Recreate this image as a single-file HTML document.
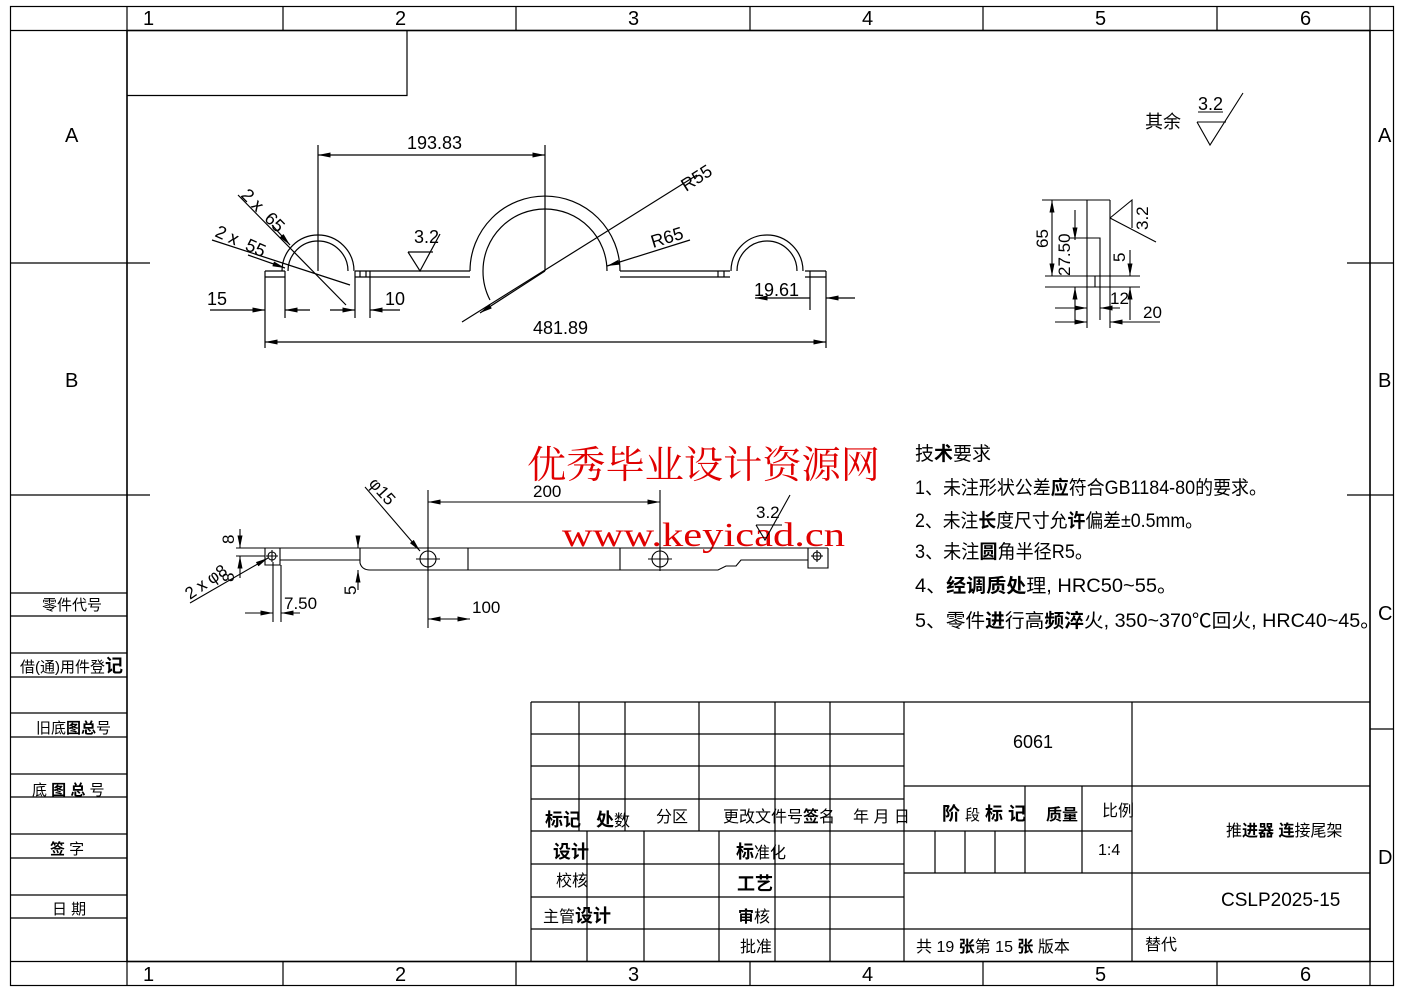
<!DOCTYPE html>
<html><head><meta charset="utf-8"><style>
html,body{margin:0;padding:0;background:#fff;}
svg{display:block;}
text{font-family:"Liberation Sans","Noto Sans CJK SC",sans-serif;fill:#000;}
.w{font-family:"Liberation Serif","Noto Serif CJK SC",serif;fill:#e00000;}
</style></head><body>
<svg width="1403" height="992" viewBox="0 0 1403 992" xmlns="http://www.w3.org/2000/svg">
<defs>
<marker id="a" viewBox="0 0 10 4" refX="10" refY="2" markerWidth="14" markerHeight="5" markerUnits="userSpaceOnUse" orient="auto-start-reverse"><path d="M0,0 L10,2 L0,4z" fill="#000"/></marker>
</defs>
<g fill="none" stroke="#000" stroke-width="1.2">
<rect x="10.5" y="6.5" width="1383" height="979"/>
<rect x="127" y="30.5" width="1243" height="931" stroke-width="1.5"/>
<line x1="10" y1="30.5" x2="1393" y2="30.5"/>
<line x1="10" y1="961.5" x2="1393" y2="961.5"/>
<line x1="127" y1="6" x2="127" y2="985"/>
<line x1="1370" y1="6" x2="1370" y2="985"/>
<path d="M283,6V30 M516,6V30 M750,6V30 M983,6V30 M1217,6V30 M283,961V985 M516,961V985 M750,961V985 M983,961V985 M1217,961V985"/>
<path d="M10,263H150 M10,495H150 M1347,263H1393 M1347,495H1393 M1370,729H1393"/>
<path d="M127,95.5H407V30"/>
<path d="M11,593H127 M11,616H127 M11,653H127 M11,677H127 M11,713H127 M11,737H127 M11,774H127 M11,797H127 M11,834H127 M11,858H127 M11,895H127 M11,918H127"/>
<path d="M531,702H1370 M531,734H904 M531,766H904 M531,799H904 M531,831H904 M531,864H904 M531,897H904 M531,929H1370 M904,786H1370 M904,831H1132 M904,873H1370"/>
<path d="M531,702V961 M579,702V831 M625,702V831 M699,702V831 M775,702V961 M830,702V961 M904,702V961 M1132,702V961 M587,831V961 M644,831V961 M719,831V961 M1025,786V873 M1082,786V873 M935,831V873 M965,831V873 M995,831V873"/>
</g>
<g font-size="20">
<text x="143" y="25">1</text><text x="395" y="25">2</text><text x="628" y="25">3</text><text x="862" y="25">4</text><text x="1095" y="25">5</text><text x="1300" y="25">6</text>
<text x="143" y="981">1</text><text x="395" y="981">2</text><text x="628" y="981">3</text><text x="862" y="981">4</text><text x="1095" y="981">5</text><text x="1300" y="981">6</text>
<text x="65" y="142">A</text><text x="65" y="387">B</text>
<text x="1378" y="142">A</text><text x="1378" y="387">B</text><text x="1378" y="620">C</text><text x="1378" y="864">D</text>
</g>
<g font-size="15">
<text x="42" y="610">零件代号</text>
<text x="20" y="672">借(通)用件登<tspan font-weight="bold" font-size="18">记</tspan></text>
<text x="36" y="733">旧底<tspan font-weight="bold">图总</tspan>号</text>
<text x="32" y="795">底 <tspan font-weight="bold">图 总</tspan> 号</text>
<text x="50" y="854"><tspan font-weight="bold">签</tspan>    字</text>
<text x="52" y="914">日    期</text>
</g>
<g font-size="16">
<text x="545" y="826" font-weight="bold" font-size="18">标记</text><text x="596" y="826"><tspan font-weight="bold" font-size="18">处</tspan>数</text>
<text x="656" y="822">分区</text><text x="723" y="822">更改文件号<tspan font-weight="bold">签</tspan>名</text>
<text x="853" y="822">年 月 日</text>
<text x="553" y="858" font-weight="bold" font-size="18">设计</text>
<text x="556" y="886">校核</text>
<text x="543" y="922">主管<tspan font-weight="bold" font-size="18">设计</tspan></text>
<text x="736" y="858"><tspan font-weight="bold" font-size="18">标</tspan>准化</text>
<text x="737" y="890" font-weight="bold" font-size="18">工艺</text>
<text x="738" y="922"><tspan font-weight="bold">审</tspan>核</text>
<text x="740" y="952">批准</text>
<text x="1013" y="748" font-size="18">6061</text>
<text x="942" y="820" font-weight="bold" font-size="18">阶 <tspan font-weight="normal" font-size="15">段</tspan> 标 记</text>
<text x="1046" y="820" font-weight="bold">质量</text>
<text x="1102" y="816">比例</text>
<text x="1098" y="855">1:4</text>
<text x="1226" y="836">推<tspan font-weight="bold">进器 连</tspan>接尾架</text>
<text x="1221" y="906" font-size="19">CSLP2025-15</text>
<text x="916" y="952">共 19 <tspan font-weight="bold">张</tspan>第 15 <tspan font-weight="bold">张</tspan> 版本</text>
<text x="1145" y="950">替代</text>
</g>
<g font-size="19">
<text x="915" y="460">技<tspan font-weight="bold">术</tspan>要求</text>
<text x="915" y="494" textLength="352" lengthAdjust="spacingAndGlyphs">1、未注形状公差<tspan font-weight="bold">应</tspan>符合GB1184-80的要求。</text>
<text x="915" y="527" textLength="288" lengthAdjust="spacingAndGlyphs">2、未注<tspan font-weight="bold">长</tspan>度尺寸允<tspan font-weight="bold">许</tspan>偏差±0.5mm。</text>
<text x="915" y="558" textLength="178" lengthAdjust="spacingAndGlyphs">3、未注<tspan font-weight="bold">圆</tspan>角半径R5。</text>
<text x="915" y="592" textLength="262" lengthAdjust="spacingAndGlyphs">4、<tspan font-weight="bold">经调质处</tspan>理, HRC50~55。</text>
<text x="915" y="627" textLength="465" lengthAdjust="spacingAndGlyphs">5、零件<tspan font-weight="bold">进</tspan>行高<tspan font-weight="bold">频淬</tspan>火, 350~370℃回火, HRC40~45。</text>
</g>
<text class="w" x="527" y="478" font-size="38" textLength="353" lengthAdjust="spacingAndGlyphs">优秀毕业设计资源网</text>
<text class="w" x="562" y="546" font-size="34" textLength="283" lengthAdjust="spacingAndGlyphs">www.keyicad.cn</text>
<g fill="none" stroke="#000" stroke-width="1.1">
<path d="M1197,122H1226 M1197,122L1210,145L1243,93 M1198,112H1223"/>
</g>
<text x="1145" y="128" font-size="18">其余</text>
<text x="1198" y="110" font-size="18">3.2</text>

<g fill="none" stroke="#000" stroke-width="1.2">
<path d="M265,271H285 M265,277H285 M265,271V348 M826,271V348 M805,271H826 M805,277H826"/>
<path d="M355,271H470 M355,277H470 M620,271H730 M620,277H730"/>
<path d="M282,271A36,36 0 0 1 354,271 M288,271A30,30 0 0 1 348,271"/>
<path d="M470,271A75,75 0 0 1 620,271 M483,271A62,62 0 0 1 607,271"/>
<path d="M483,271A62,62 0 0 0 490,300"/>
<path d="M731,271A36,36 0 0 1 803,271 M737,271A30,30 0 0 1 797,271"/>
<path d="M360,271V277 M366,271V277 M718,271V277 M724,271V277"/>
<path d="M318,145V271 M545,145V271"/>
<path d="M318,155H545" marker-start="url(#a)" marker-end="url(#a)"/>
<path d="M265,342H826" marker-start="url(#a)" marker-end="url(#a)"/>
<path d="M285,271V318 M355,271V318 M370,271V318 M810,271V310"/>
<path d="M210,310H265" marker-end="url(#a)"/><path d="M310,310H285" marker-end="url(#a)"/>
<path d="M330,310H355" marker-end="url(#a)"/><path d="M400,310H370" marker-end="url(#a)"/>
<path d="M755,298H810" marker-start="url(#a)"/><path d="M855,298H826" marker-end="url(#a)"/>
<path d="M238,195L346,305 M212,240L350,285"/>
<path d="M272,225L290,245" marker-end="url(#a)"/>
<path d="M248,255L285,268" marker-end="url(#a)"/>
<path d="M462,322L697,175"/><path d="M545,271L480,313" marker-end="url(#a)"/>
<path d="M690,240L607,266" marker-end="url(#a)"/>
<path d="M408,252H433 M408,252L420,271L440,234"/>
</g>
<g font-size="18">
<text x="407" y="149">193.83</text>
<text x="533" y="334">481.89</text>
<text x="207" y="305">15</text>
<text x="385" y="305">10</text>
<text x="754" y="296">19.61</text>
<text x="414" y="243">3.2</text>
<text x="0" y="0" transform="translate(686,192) rotate(-33)">R55</text>
<text x="0" y="0" transform="translate(653,248) rotate(-17)">R65</text>
<text x="0" y="0" transform="translate(240,196) rotate(45)">2ⅹ 65</text>
<text x="0" y="0" transform="translate(214,236) rotate(24)">2ⅹ 55</text>
</g>

<g fill="none" stroke="#000" stroke-width="1.1">
<path d="M1042,200H1110 M1045,276H1140 M1045,287H1140 M1087,200V328 M1110,200V328 M1100,256V320 M1070,238H1100V276 M1095,276V287"/>
<path d="M1052,200V276" marker-start="url(#a)" marker-end="url(#a)"/>
<path d="M1075,210V240" marker-end="url(#a)"/><path d="M1075,320V287" marker-end="url(#a)"/>
<path d="M1130,250V276" marker-end="url(#a)"/><path d="M1130,320V287" marker-end="url(#a)"/>
<path d="M1055,308H1087" marker-end="url(#a)" /><path d="M1120,308H1100" marker-end="url(#a)"/>
<path d="M1055,322H1087" marker-end="url(#a)"/><path d="M1160,322H1110" marker-end="url(#a)"/>
<path d="M1110,218L1132,200V228 M1110,218L1156,242"/>
</g>
<g font-size="17">
<text x="0" y="0" transform="translate(1048,248) rotate(-90)">65</text>
<text x="0" y="0" transform="translate(1070,276) rotate(-90)">27.50</text>
<text x="0" y="0" transform="translate(1148,230) rotate(-90)">3.2</text>
<text x="0" y="0" transform="translate(1125,262) rotate(-90)">5</text>
<text x="1110" y="304">12</text>
<text x="1143" y="318">20</text>
</g>

<g fill="none" stroke="#000" stroke-width="1.1">
<path d="M262,548H828 M265,548V565H280V548 M280,560H360 M360,548V563Q362,570 370,570H718L726,566H736L741,560H808V548 M808,548V568H828V548"/>
<path d="M468,548V570 M620,548V570"/>
<circle cx="428" cy="559" r="8"/><circle cx="660" cy="559" r="8"/>
<circle cx="272" cy="556" r="4"/><circle cx="817" cy="556" r="4"/>
<path d="M416,559H440 M428,547V571 M648,559H672 M660,547V571 M266,556H278 M272,550V562 M811,556H823 M817,550V562"/>
<path d="M428,490V628 M660,490V560 M273,562V622 M281,565V622"/>
<path d="M428,502H660" marker-start="url(#a)" marker-end="url(#a)"/>
<path d="M428,619H470" marker-start="url(#a)" marker-end="url(#a)"/>
<path d="M245,613H273" marker-end="url(#a)"/><path d="M300,613H281" marker-end="url(#a)"/>
<path d="M240,529V548" marker-end="url(#a)"/><path d="M240,578V556" marker-end="url(#a)"/>
<path d="M236,548H265 M236,556H265"/>
<path d="M358,537V548" marker-end="url(#a)"/><path d="M358,590V570" marker-end="url(#a)"/>
<path d="M365,487L420,551" marker-end="url(#a)"/>
<path d="M190,603L268,558" marker-end="url(#a)"/>
<path d="M756,525H782 M756,525L765,540L790,495"/>
</g>
<g font-size="17">
<text x="533" y="497">200</text>
<text x="472" y="613">100</text>
<text x="284" y="609">7.50</text>
<text x="756" y="518">3.2</text>
<text x="0" y="0" transform="translate(234,544) rotate(-90)">8</text>
<text x="0" y="0" transform="translate(234,582) rotate(-90)">8</text>
<text x="0" y="0" transform="translate(356,595) rotate(-90)">5</text>
<text x="0" y="0" transform="translate(368,484) rotate(48)">φ15</text>
<text x="0" y="0" transform="translate(190,600) rotate(-35)">2ⅹφ8</text>
</g>
</svg>
</body></html>
